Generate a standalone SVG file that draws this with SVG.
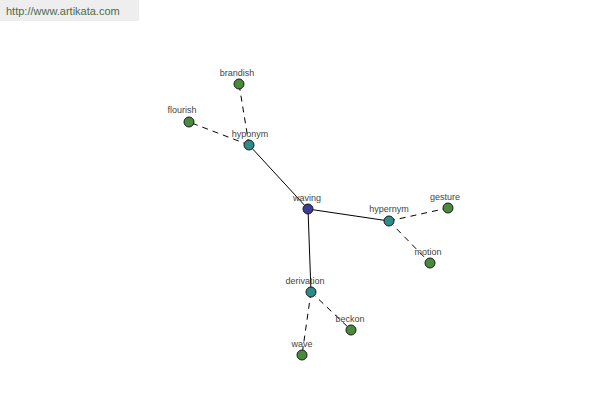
<svg xmlns="http://www.w3.org/2000/svg" width="600" height="400" viewBox="0 0 600 400">
<style>
text{font-family:"Liberation Sans",Arial,sans-serif;font-size:9px;fill:#444;text-anchor:middle}
.s{stroke:#000;stroke-width:1;fill:none}
.d{stroke:#000;stroke-width:1;fill:none;stroke-dasharray:6,5}
circle{stroke:#1a1a1a;stroke-width:1}
.c{fill:#2e8b8b}
.g{fill:#4a8a3c}
.b{fill:#3c3c96}
</style>
<rect width="600" height="400" fill="#fff"/>
<rect x="0" y="0" width="139" height="21" fill="#eeeeee"/>
<text x="6" y="15" style="text-anchor:start;font-size:11px;fill:#4d6b4d">http://www.artikata.com</text>
<g id="connectors">
<line class="s" x1="308" y1="209" x2="249" y2="145"/>
<line class="s" x1="308" y1="209" x2="389" y2="221"/>
<line class="s" x1="308" y1="209" x2="311" y2="292"/>
<line class="d" x1="249" y1="145" x2="239" y2="84"/>
<line class="d" x1="249" y1="145" x2="189" y2="122"/>
<line class="d" x1="389" y1="221" x2="448" y2="208"/>
<line class="d" x1="389" y1="221" x2="430" y2="263"/>
<line class="d" x1="311" y1="292" x2="351" y2="330"/>
<line class="d" x1="311" y1="292" x2="302" y2="355"/>
</g>
<g id="waving"><circle class="b" cx="308" cy="209" r="5"/><text x="307" y="201">waving</text></g>
<g id="hyponym"><circle class="c" cx="249" cy="145" r="5"/><text x="250" y="137">hyponym</text></g>
<g id="brandish"><circle class="g" cx="239" cy="84" r="5"/><text x="237" y="76">brandish</text></g>
<g id="flourish"><circle class="g" cx="189" cy="122" r="5"/><text x="182" y="113">flourish</text></g>
<g id="hypernym"><circle class="c" cx="389" cy="221" r="5"/><text x="389" y="212">hypernym</text></g>
<g id="gesture"><circle class="g" cx="448" cy="208" r="5"/><text x="445" y="200">gesture</text></g>
<g id="motion"><circle class="g" cx="430" cy="263" r="5"/><text x="428" y="255">motion</text></g>
<g id="derivation"><circle class="c" cx="311" cy="292" r="5"/><text x="305" y="284">derivation</text></g>
<g id="beckon"><circle class="g" cx="351" cy="330" r="5"/><text x="350" y="322">beckon</text></g>
<g id="wave"><circle class="g" cx="302" cy="355" r="5"/><text x="302" y="347">wave</text></g>
</svg>
